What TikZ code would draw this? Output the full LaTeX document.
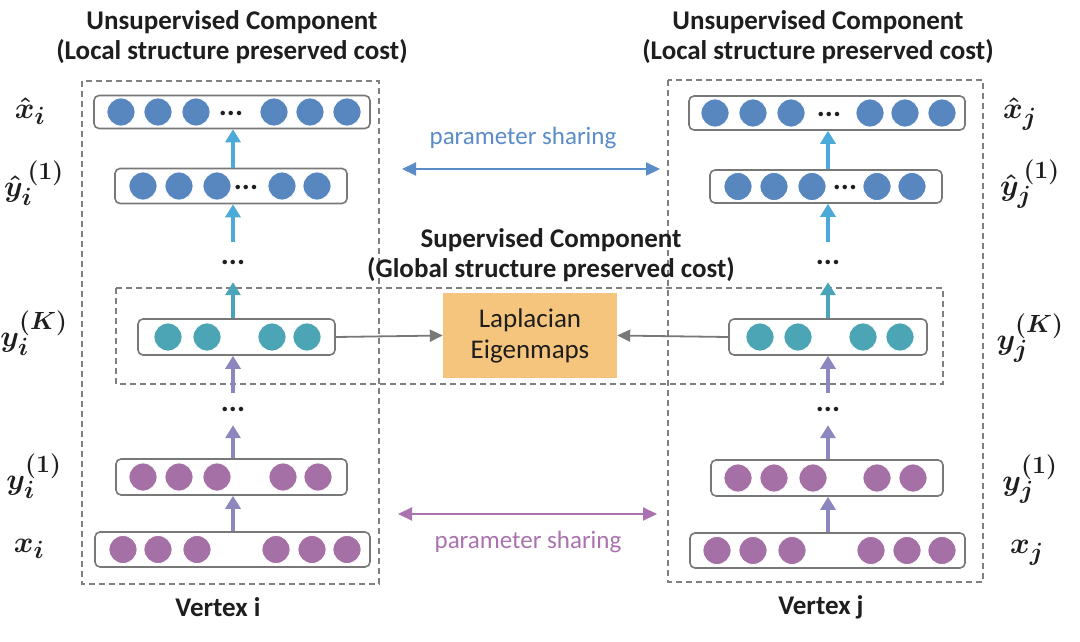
\documentclass[tikz,border=0pt]{standalone}
\usepackage[no-math]{fontspec}
\setmainfont{Carlito}
\usepackage{bm}
\usetikzlibrary{arrows.meta}
\definecolor{cblue}{RGB}{88,135,192}
\definecolor{cteal}{RGB}{75,165,180}
\definecolor{cpurp}{RGB}{165,112,165}
\definecolor{albue}{RGB}{75,170,215}
\definecolor{ateal}{RGB}{75,165,185}
\definecolor{alav}{RGB}{140,135,190}
\definecolor{pblue}{RGB}{90,140,200}
\definecolor{ppurp}{RGB}{170,115,175}
\definecolor{lapfill}{RGB}{246,197,125}
\definecolor{boxgray}{RGB}{120,120,120}
\definecolor{dashgray}{RGB}{128,128,128}
\definecolor{txt}{RGB}{30,30,30}
\begin{document}
\begin{tikzpicture}[x=1pt,y=-1pt,
  layer/.style={draw=boxgray,line width=1.6pt,rounded corners=5pt,inner sep=0pt,fill=white},
  neuron/.style={circle,minimum size=28pt,inner sep=0pt,draw=white,line width=0.8pt},
  dotsn/.style={inner sep=0pt,font=\fontsize{30}{30}\selectfont\bfseries,text=txt},
  upA/.style={line width=4pt,-{Triangle[width=15pt,length=13pt]}},
  grayA/.style={draw=boxgray,line width=1.8pt,-{Triangle[width=12pt,length=13pt]}},
  shareA/.style={line width=2.2pt,{Triangle[width=13pt,length=14pt]}-{Triangle[width=13pt,length=14pt]}},
  frame/.style={draw=dashgray,line width=1.5pt,dash pattern=on 6pt off 4pt},
  title/.style={font=\fontsize{27}{30}\selectfont\bfseries,text=txt,align=center,inner sep=0pt},
  mlab/.style={font=\fontsize{24.88}{30}\selectfont\boldmath,text=txt,inner sep=0pt,scale=1.2,transform shape},
  share/.style={font=\fontsize{25}{30}\selectfont,inner sep=0pt}
]
\useasboundingbox (0,0) rectangle (1080,642);
\fill[white] (0,0) rectangle (1080,642);

% dashed frames
\draw[frame] (82,81) rectangle (379,584);
\draw[frame] (668,80) rectangle (983,582);
\draw[frame] (116,288) rectangle (943,384);

% titles
\node[title] (tl) at (232,37) {Unsupervised Component\\(Local structure preserved cost)};
\node[title] (tr) at (818,37) {Unsupervised Component\\(Local structure preserved cost)};
\node[title] (ts) at (551,255) {Supervised Component\\(Global structure preserved cost)};
\node[title] (vi) at (218,607) {Vertex i};
\node[title] (vj) at (821,607) {Vertex j};

% ---------- left column ----------
\node[layer,minimum width=276pt,minimum height=33pt] (xhi) at (232,112) {};
\node[layer,minimum width=232pt,minimum height=35pt] (yhi) at (231,186) {};
\node[layer,minimum width=197pt,minimum height=36pt] (yKi) at (236.5,337) {};
\node[layer,minimum width=231pt,minimum height=36pt] (y1i) at (231.5,477) {};
\node[layer,minimum width=275pt,minimum height=35pt] (xi)  at (232.5,549.5) {};

\foreach \cx [count=\k] in {121,158,196,274,310,347}
  \node[neuron,fill=cblue] (xhi\k) at (\cx,112) {};
\node[dotsn] (xhid) at (231,113) {...};
\foreach \cx [count=\k] in {143,179,217,282,317}
  \node[neuron,fill=cblue] (yhi\k) at (\cx,186) {};
\node[dotsn] (yhid) at (246,187) {...};
\foreach \cx [count=\k] in {168,207,272,307}
  \node[neuron,fill=cteal] (yKi\k) at (\cx,337) {};
\foreach \cx [count=\k] in {143,179,217,283,318}
  \node[neuron,fill=cpurp] (y1i\k) at (\cx,477) {};
\foreach \cx [count=\k] in {123,158,197,276,312,347}
  \node[neuron,fill=cpurp] (xi\k) at (\cx,549.5) {};

\node[dotsn,minimum height=40pt] (dl1) at (233,262) {...};
\node[dotsn,minimum height=32pt] (dl2) at (233,409) {...};

\draw[upA,albue] (yhi.north -| dl1) -- (xhi.south -| dl1);
\draw[upA,albue] (dl1.north) -- (yhi.south -| dl1);
\draw[upA,ateal] (yKi.north -| dl1) -- (dl1.south);
\draw[upA,alav] (dl2.north) -- (yKi.south -| dl2);
\draw[upA,alav] (y1i.north -| dl2) -- (dl2.south);
\draw[upA,alav] (xi.north -| dl2) -- (y1i.south -| dl2);

% ---------- right column ----------
\node[layer,minimum width=276pt,minimum height=34pt] (xhj) at (827,113) {};
\node[layer,minimum width=232pt,minimum height=33pt] (yhj) at (826,186.5) {};
\node[layer,minimum width=198pt,minimum height=36pt] (yKj) at (828,337) {};
\node[layer,minimum width=232pt,minimum height=36pt] (y1j) at (827,478) {};
\node[layer,minimum width=275pt,minimum height=35pt] (xj)  at (827.5,550.5) {};

\foreach \cx [count=\k] in {715,753,791,870,905,942}
  \node[neuron,fill=cblue] (xhj\k) at (\cx,113) {};
\node[dotsn] (xhjd) at (829,114) {...};
\foreach \cx [count=\k] in {738,774,812,877,912}
  \node[neuron,fill=cblue] (yhj\k) at (\cx,186.5) {};
\node[dotsn] (yhjd) at (845,187.5) {...};
\foreach \cx [count=\k] in {760,798,863,900}
  \node[neuron,fill=cteal] (yKj\k) at (\cx,337) {};
\foreach \cx [count=\k] in {738,774,813,877,913}
  \node[neuron,fill=cpurp] (y1j\k) at (\cx,478) {};
\foreach \cx [count=\k] in {717,753,792,871,907,942}
  \node[neuron,fill=cpurp] (xj\k) at (\cx,550.5) {};

\node[dotsn,minimum height=40pt] (dr1) at (828,262) {...};
\node[dotsn,minimum height=32pt] (dr2) at (828,409) {...};

\draw[upA,albue] (yhj.north -| dr1) -- (xhj.south -| dr1);
\draw[upA,albue] (dr1.north) -- (yhj.south -| dr1);
\draw[upA,ateal] (yKj.north -| dr1) -- (dr1.south);
\draw[upA,alav] (dr2.north) -- (yKj.south -| dr2);
\draw[upA,alav] (y1j.north -| dr2) -- (dr2.south);
\draw[upA,alav] (xj.north -| dr2) -- (y1j.south -| dr2);

% ---------- middle ----------
\node[fill=lapfill,minimum width=174pt,minimum height=85pt,inner sep=0pt,
      font=\fontsize{27}{31}\selectfont,text=txt,align=center] (lap) at (530,335.5)
      {Laplacian\\Eigenmaps};
\draw[grayA] (yKi.east) -- (lap.west);
\draw[grayA] (yKj.west) -- (lap.east);

\node[share,text=pblue] (ps1) at (523,138) {parameter sharing};
\coordinate (pb1) at (402,169);
\coordinate (pb2) at (660,169);
\draw[shareA,pblue] (pb1) -- (pb2);

\node[share,text=ppurp] (ps2) at (528,542) {parameter sharing};
\coordinate (pp1) at (398,514);
\coordinate (pp2) at (657,514);
\draw[shareA,ppurp] (pp1) -- (pp2);

% ---------- math labels ----------
\node[mlab] (lxhi) at (30,111) {$\hat{x}_i$};
\node[mlab] (lyhi) at (34,183) {$\hat{y}_i^{\,(1)}$};
\node[mlab] (lyKi) at (34,333) {$y_i^{(K)}$};
\node[mlab] (ly1i) at (34,476) {$y_i^{(1)}$};
\node[mlab] (lxi)  at (29,549) {$x_i$};

\node[mlab] (lxhj) at (1020,114) {$\hat{x}_j$};
\node[mlab] (lyhj) at (1030,184) {$\hat{y}_j^{\,(1)}$};
\node[mlab] (lyKj) at (1030,338) {$y_j^{(K)}$};
\node[mlab] (ly1j) at (1030,479) {$y_j^{(1)}$};
\node[mlab] (lxj)  at (1027,553) {$x_j$};
\end{tikzpicture}
\end{document}
